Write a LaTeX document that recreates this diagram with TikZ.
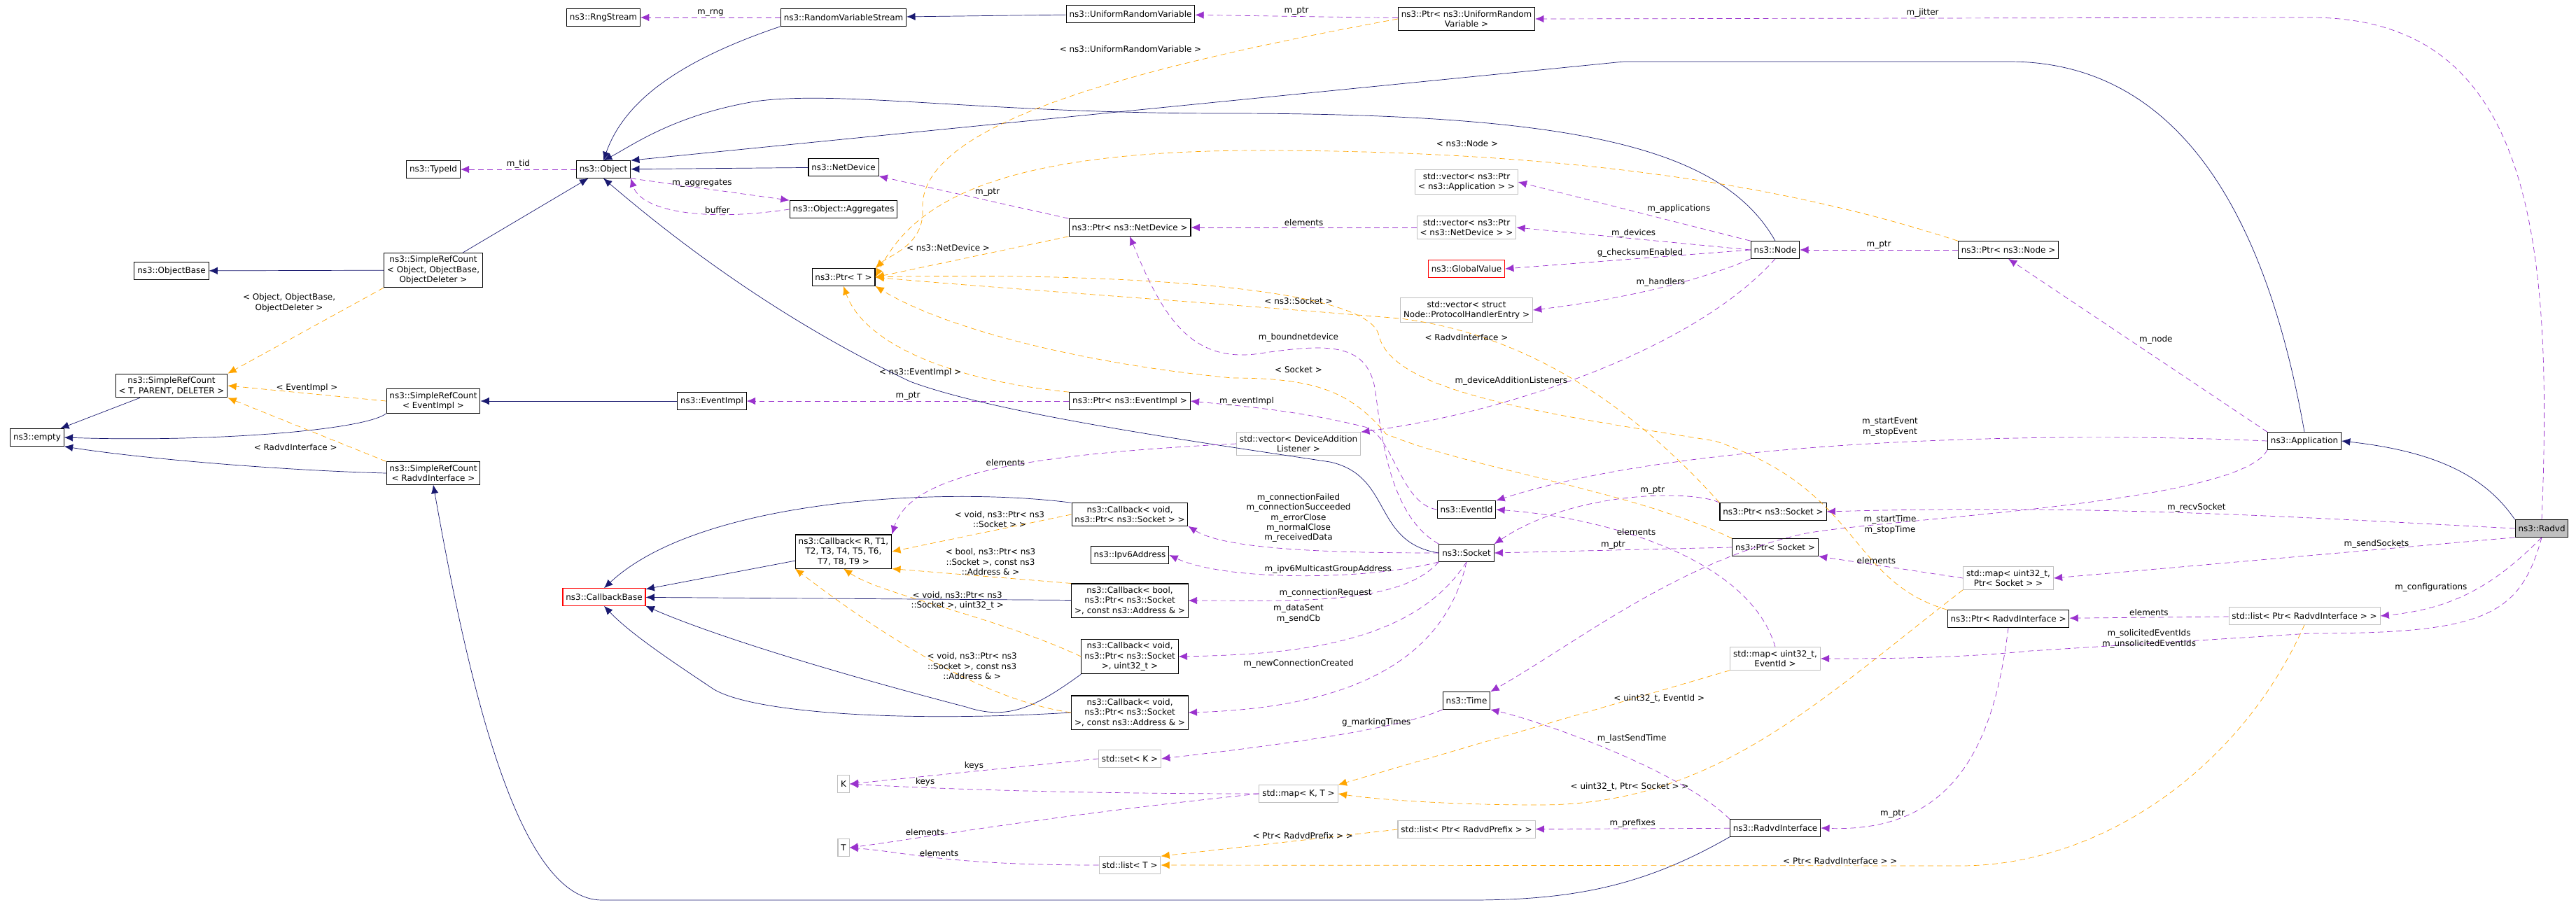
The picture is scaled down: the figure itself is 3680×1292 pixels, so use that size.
\documentclass[tikz,border=0pt]{standalone}
\usepackage{fontspec}
\setmainfont{DejaVu Sans}
\usetikzlibrary{arrows.meta,positioning}

\definecolor{inhcol}{HTML}{191970}
\definecolor{usecol}{HTML}{9A32CD}
\definecolor{tplcol}{HTML}{FFA500}
\definecolor{extcol}{HTML}{BFBFBF}

\begin{document}
\begin{tikzpicture}[x=0.02cm,y=-0.02cm,
  font=\fontsize{6.8}{8.2}\selectfont,
  cls/.style={draw=black,semithick,fill=white,align=center,inner sep=2.5pt,minimum height=14pt},
  ext/.style={cls,draw=extcol},
  bad/.style={cls,draw=red},
  inh/.style={draw=inhcol,thin,-{Latex[length=7pt,width=6pt]}},
  use/.style={draw=usecol,thin,dash pattern=on 4.5pt off 3pt,-{Latex[length=7pt,width=6pt]}},
  tpl/.style={draw=tplcol,thin,dash pattern=on 4.5pt off 3pt,-{Latex[length=7pt,width=6pt]}},
  lbl/.style={align=center,inner sep=1pt}]
\useasboundingbox (0,0) rectangle (3680,1292);

% classes
\node[cls] (rngstream) at (862,25) {ns3::RngStream};
\node[cls] (rvstream) at (1205,25) {ns3::RandomVariableStream};
\node[cls] (urv) at (1615,20) {ns3::UniformRandomVariable};
\node[cls] (pUrv) at (2095,27) {ns3::Ptr\textless{} ns3::UniformRandom\\Variable \textgreater};
\node[cls] (typeid) at (619,242) {ns3::TypeId};
\node[cls] (object) at (862,242) {ns3::Object};
\node[cls] (netdevice) at (1205,239) {ns3::NetDevice};
\node[cls] (aggregates) at (1205,299) {ns3::Object::Aggregates};
\node[cls] (objectbase) at (245,387) {ns3::ObjectBase};
\node[cls] (srcObj) at (619,386) {ns3::SimpleRefCount\\\textless{} Object, ObjectBase,\\ObjectDeleter \textgreater};
\node[cls] (srcT) at (245,551) {ns3::SimpleRefCount\\\textless{} T, PARENT, DELETER \textgreater};
\node[cls] (srcEvent) at (619,573) {ns3::SimpleRefCount\\\textless{} EventImpl \textgreater};
\node[cls] (srcRadvd) at (619,676) {ns3::SimpleRefCount\\\textless{} RadvdInterface \textgreater};
\node[cls] (empty) at (53,625) {ns3::empty};
\node[cls] (eventimpl) at (1017,573) {ns3::EventImpl};
\node[cls] (pT) at (1205,396) {ns3::Ptr\textless{} T \textgreater};
\node[cls] (pNetDevice) at (1614,325) {ns3::Ptr\textless{} ns3::NetDevice \textgreater};
\node[ext] (vecApp) at (2095,260) {std::vector\textless{} ns3::Ptr\\\textless{} ns3::Application \textgreater{} \textgreater};
\node[ext] (vecDev) at (2095,325) {std::vector\textless{} ns3::Ptr\\\textless{} ns3::NetDevice \textgreater{} \textgreater};
\node[bad] (globalvalue) at (2095,384) {ns3::GlobalValue};
\node[ext] (vecHandler) at (2095,443) {std::vector\textless{} struct\\Node::ProtocolHandlerEntry \textgreater};
\node[cls] (node) at (2536,357) {ns3::Node};
\node[cls] (pNode) at (2869,357) {ns3::Ptr\textless{} ns3::Node \textgreater};
\node[cls] (pEventImpl) at (1614,573) {ns3::Ptr\textless{} ns3::EventImpl \textgreater};
\node[ext] (dal) at (1855,634) {std::vector\textless{} DeviceAddition\\Listener \textgreater};
\node[bad] (callbackbase) at (863,853) {ns3::CallbackBase};
\node[cls] (cbR) at (1205,788) {ns3::Callback\textless{} R, T1,\\T2, T3, T4, T5, T6,\\T7, T8, T9 \textgreater};
\node[cls] (cbSock) at (1614,735) {ns3::Callback\textless{} void,\\ns3::Ptr\textless{} ns3::Socket \textgreater{} \textgreater};
\node[cls] (ipv6) at (1614,793) {ns3::Ipv6Address};
\node[cls] (cbBool) at (1614,858) {ns3::Callback\textless{} bool,\\ns3::Ptr\textless{} ns3::Socket\\\textgreater, const ns3::Address \& \textgreater};
\node[cls] (cbUint) at (1614,938) {ns3::Callback\textless{} void,\\ns3::Ptr\textless{} ns3::Socket\\\textgreater, uint32\_t \textgreater};
\node[cls] (cbAddr) at (1614,1018) {ns3::Callback\textless{} void,\\ns3::Ptr\textless{} ns3::Socket\\\textgreater, const ns3::Address \& \textgreater};
\node[cls] (eventid) at (2095,728) {ns3::EventId};
\node[cls] (socket) at (2095,790) {ns3::Socket};
\node[cls] (time) at (2095,1001) {ns3::Time};
\node[ext] (keyK) at (1205,1120) {K};
\node[ext] (keyT) at (1205,1211) {T};
\node[ext] (setK) at (1614,1084) {std::set\textless{} K \textgreater};
\node[ext] (mapKT) at (1855,1134) {std::map\textless{} K, T \textgreater};
\node[ext] (listPrefix) at (2095,1185) {std::list\textless{} Ptr\textless{} RadvdPrefix \textgreater{} \textgreater};
\node[ext] (listT) at (1614,1236) {std::list\textless{} T \textgreater};
\node[cls] (application) at (3292,630) {ns3::Application};
\node[cls] (pNsSocket) at (2533,731) {ns3::Ptr\textless{} ns3::Socket \textgreater};
\node[cls] (pSocket) at (2536,782) {ns3::Ptr\textless{} Socket \textgreater};
\node[ext] (mapSock) at (2869,826) {std::map\textless{} uint32\_t,\\Ptr\textless{} Socket \textgreater{} \textgreater};
\node[cls] (pRI) at (2869,884) {ns3::Ptr\textless{} RadvdInterface \textgreater};
\node[ext] (listRI) at (3292,880) {std::list\textless{} Ptr\textless{} RadvdInterface \textgreater{} \textgreater};
\node[ext] (mapEvent) at (2536,941) {std::map\textless{} uint32\_t,\\EventId \textgreater};
\node[cls] (radvdif) at (2536,1183) {ns3::RadvdInterface};
\node[cls,fill=extcol] (radvd) at (3631,755) {ns3::Radvd};

% inheritance
\draw[inh] (rvstream.south west) .. controls (960,90) and (890,150) .. (object.north);
\draw[inh] (urv) -- (rvstream);
\draw[inh] (node.north) .. controls (2460,210) and (2250,162) .. (1750,162) .. controls (1400,162) and (1200,128) .. (1078,145) .. controls (960,165) and (900,210) .. (object.north);
\draw[inh] (application.north) .. controls (3250,380) and (3150,88) .. (2870,88) -- (2320,88) -- (object.north east);
\draw[inh] (netdevice) -- (object);
\draw[inh] (socket.west) .. controls (1960,775) and (1990,680) .. (1900,660) .. controls (1700,630) and (1420,590) .. (1300,545) .. controls (1100,450) and (950,330) .. (object.south);
\draw[inh] (srcObj) -- (object);
\draw[inh] (srcObj) -- (objectbase);
\draw[inh] (srcT) -- (empty);
\draw[inh] (srcEvent.south west) .. controls (520,615) and (300,632) .. (empty.east);
\draw[inh] (srcRadvd.west) .. controls (400,672) and (200,655) .. (empty.south east);
\draw[inh] (eventimpl) -- (srcEvent);
\draw[inh] (radvdif.south west) .. controls (2350,1265) and (2250,1286) .. (2100,1286) -- (860,1286) .. controls (740,1286) and (670,980) .. (srcRadvd.south);
\draw[inh] (cbR) -- (callbackbase);
\draw[inh] (cbSock.north west) .. controls (1350,695) and (1000,712) .. (callbackbase.north);
\draw[inh] (cbBool) -- (callbackbase);
\draw[inh] (cbUint.south west) .. controls (1480,1010) and (1440,1030) .. (1380,1010) .. controls (1150,950) and (1000,900) .. (callbackbase.south east);
\draw[inh] (cbAddr.west) .. controls (1300,1032) and (1080,1020) .. (1020,985) .. controls (960,945) and (900,905) .. (callbackbase.south);
\draw[inh] (radvd.north west) .. controls (3550,680) and (3480,645) .. (application.east);

% usage
\draw[use] (rvstream) -- node[lbl,above] {m\_rng} (rngstream);
\draw[use] (pUrv) -- node[lbl,above] {m\_ptr} (urv);
\draw[use] (radvd.north) .. controls (3650,300) and (3600,25) .. (3300,25) -- node[lbl,above] {m\_jitter} (pUrv.east);
\draw[use] (object) -- node[lbl,above] {m\_tid} (typeid);
\draw[use] (object.south east) -- node[lbl,above,pos=0.45] {m\_aggregates} (aggregates.north west);
\draw[use] (aggregates.west) .. controls (1000,318) and (915,300) .. node[lbl,above,pos=0.3] {buffer} (object.south east);
\draw[use] (pNetDevice.north west) -- node[lbl,above right] {m\_ptr} (netdevice.south east);
\draw[use] (vecDev) -- node[lbl,above] {elements} (pNetDevice);
\draw[use] (node.north west) -- node[lbl,above right,pos=0.45] {m\_applications} (vecApp.east);
\draw[use] (node.west) -- node[lbl,above] {m\_devices} (vecDev.east);
\draw[use] (node.west) -- node[lbl,above,pos=0.45] {g\_checksumEnabled} (globalvalue.east);
\draw[use] (node.south west) .. controls (2420,405) and (2300,430) .. node[lbl,above,pos=0.45] {m\_handlers} (vecHandler.east);
\draw[use] (node.south) .. controls (2420,500) and (2150,590) .. node[lbl,pos=0.55,left] {m\_deviceAdditionListeners} (dal.north east);
\draw[use] (pNode) -- node[lbl,above] {m\_ptr} (node);
\draw[use] (application.north west) -- node[lbl,above right] {m\_node} (pNode.south);
\draw[use] (socket.north west) .. controls (1990,740) and (1975,640) .. (1965,560) .. controls (1955,490) and (1900,490) .. (1800,505) .. controls (1700,520) and (1660,450) .. (pNetDevice.south);
\node[lbl] (lblBound) at (1855,482) {m\_boundnetdevice};
\draw[use] (pEventImpl) -- node[lbl,above] {m\_ptr} (eventimpl);
\draw[use] (eventid.west) .. controls (2000,720) and (1990,620) .. (1950,610) .. controls (1850,585) and (1750,578) .. node[lbl,above,pos=0.6] {m\_eventImpl} (pEventImpl.east);
\draw[use] (dal.west) .. controls (1450,650) and (1300,680) .. node[lbl,above,pos=0.45] {elements} (cbR.north east);
\draw[use] (socket.west) .. controls (1900,790) and (1750,785) .. (cbSock.south east);
\node[lbl] (lblConn) at (1855,740) {m\_connectionFailed\\m\_connectionSucceeded\\m\_errorClose\\m\_normalClose\\m\_receivedData};
\draw[use] (socket.south west) .. controls (1950,830) and (1750,830) .. node[lbl,above,pos=0.4] {m\_ipv6MulticastGroupAddress} (ipv6.east);
\draw[use] (socket.south west) .. controls (2000,865) and (1850,858) .. node[lbl,above,pos=0.55] {m\_connectionRequest} (cbBool.east);
\draw[use] (socket.south) .. controls (2020,920) and (1850,935) .. (cbUint.east);
\node[lbl] (lblSent) at (1855,877) {m\_dataSent\\m\_sendCb};
\draw[use] (socket.south) .. controls (2060,960) and (1900,1012) .. (cbAddr.east);
\node[lbl] (lblNew) at (1855,948) {m\_newConnectionCreated};
\draw[use] (application.west) .. controls (2900,615) and (2400,630) .. (eventid.north east);
\node[lbl] (lblStartEv) at (2700,610) {m\_startEvent\\m\_stopEvent};
\draw[use] (application.south west) .. controls (3200,720) and (2700,740) .. (2580,762) .. controls (2400,800) and (2250,920) .. (time.north east);
\node[lbl] (lblStartT) at (2700,750) {m\_startTime\\m\_stopTime};
\draw[use] (pNsSocket.north west) .. controls (2420,700) and (2250,700) .. node[lbl,above,pos=0.4] {m\_ptr} (socket.north east);
\draw[use] (pSocket.west) -- node[lbl,above] {m\_ptr} (socket.east);
\draw[use] (mapEvent.north) .. controls (2500,800) and (2300,740) .. node[lbl,above,pos=0.6] {elements} (eventid.east);
\draw[use] (mapSock.west) -- node[lbl,above,pos=0.6] {elements} (pSocket.south east);
\draw[use] (radvd.west) .. controls (3300,740) and (3000,720) .. node[lbl,above,pos=0.5] {m\_recvSocket} (pNsSocket.east);
\draw[use] (radvd.south west) -- node[lbl,above,pos=0.3] {m\_sendSockets} (mapSock.east);
\draw[use] (radvd.south) .. controls (3560,840) and (3500,870) .. node[lbl,above left,pos=0.5] {m\_configurations} (listRI.east);
\draw[use] (radvd.south) .. controls (3600,880) and (3550,905) .. (3300,905) -- (2900,930) .. controls (2800,940) and (2700,941) .. (mapEvent.east);
\node[lbl] (lblSolic) at (3070,913) {m\_solicitedEventIds\\m\_unsolicitedEventIds};
\draw[use] (listRI) -- node[lbl,above] {elements} (pRI);
\draw[use] (pRI.south) .. controls (2850,1050) and (2800,1190) .. node[lbl,above,pos=0.8] {m\_ptr} (radvdif.east);
\draw[use] (time.south west) .. controls (2000,1040) and (1850,1062) .. node[lbl,above,pos=0.35] {g\_markingTimes} (setK.east);
\draw[use] (radvdif.north west) .. controls (2400,1100) and (2200,1030) .. node[lbl,above right,pos=0.55] {m\_lastSendTime} (time.south east);
\draw[use] (radvdif) -- node[lbl,above] {m\_prefixes} (listPrefix);
\draw[use] (setK.west) -- node[lbl,above] {keys} (keyK.east);
\draw[use] (mapKT.west) .. controls (1500,1134) and (1300,1125) .. node[lbl,above,pos=0.7] {keys} (keyK.east);
\draw[use] (mapKT.west) .. controls (1500,1165) and (1300,1200) .. node[lbl,above,pos=0.7] {elements} (keyT.east);
\draw[use] (listT.west) .. controls (1350,1236) and (1300,1218) .. node[lbl,above,pos=0.5] {elements} (keyT.east);

% templates
\draw[tpl] (pUrv.west) .. controls (1600,100) and (1310,180) .. (1318,300) .. controls (1320,350) and (1270,365) .. (pT.north east);
\node[lbl] (lblUrv) at (1615,70) {\textless{} ns3::UniformRandomVariable \textgreater};
\draw[tpl] (pNode.north west) .. controls (2600,280) and (2300,215) .. (1800,215) .. controls (1400,215) and (1300,300) .. (pT.east);
\node[lbl] (lblNode) at (2096,205) {\textless{} ns3::Node \textgreater};
\draw[tpl] (pNetDevice.south west) -- node[lbl,above left,pos=0.4] {\textless{} ns3::NetDevice \textgreater} (pT.east);
\draw[tpl] (pNsSocket.north west) .. controls (2350,600) and (2200,480) .. (2000,455) .. controls (1700,430) and (1400,410) .. (pT.east);
\node[lbl] (lblNsSock) at (1855,430) {\textless{} ns3::Socket \textgreater};
\draw[tpl] (pRI.north west) .. controls (2640,830) and (2660,700) .. (2450,630) .. controls (2200,590) and (1990,560) .. (1970,480) .. controls (1955,400) and (1500,390) .. (pT.east);
\node[lbl] (lblRI) at (2095,482) {\textless{} RadvdInterface \textgreater};
\draw[tpl] (pSocket.north west) .. controls (2330,700) and (2100,670) .. (1980,620) .. controls (1930,560) and (1880,540) .. (1760,540) .. controls (1550,520) and (1350,470) .. (pT.south east);
\node[lbl] (lblSock) at (1855,528) {\textless{} Socket \textgreater};
\draw[tpl] (pEventImpl.north west) .. controls (1330,540) and (1230,480) .. node[lbl,left,pos=0.3] {\textless{} ns3::EventImpl \textgreater} (pT.south);
\draw[tpl] (srcObj.south west) -- node[lbl,above left,pos=0.3] {\textless{} Object, ObjectBase,\\ObjectDeleter \textgreater} (srcT.north east);
\draw[tpl] (srcEvent.west) -- node[lbl,above] {\textless{} EventImpl \textgreater} (srcT.east);
\draw[tpl] (srcRadvd.north west) -- node[lbl,below left,pos=0.3] {\textless{} RadvdInterface \textgreater} (srcT.south east);
\draw[tpl] (cbSock.west) -- node[lbl,above,pos=0.4] {\textless{} void, ns3::Ptr\textless{} ns3\\::Socket \textgreater{} \textgreater} (cbR.east);
\draw[tpl] (cbBool.north west) -- node[lbl,above,pos=0.45] {\textless{} bool, ns3::Ptr\textless{} ns3\\::Socket \textgreater, const ns3\\::Address \& \textgreater} (cbR.south east);
\draw[tpl] (cbUint.west) .. controls (1420,880) and (1260,850) .. node[lbl,above,pos=0.45] {\textless{} void, ns3::Ptr\textless{} ns3\\::Socket \textgreater, uint32\_t \textgreater} (cbR.south);
\draw[tpl] (cbAddr.west) .. controls (1400,1000) and (1250,900) .. node[lbl,above,pos=0.35] {\textless{} void, ns3::Ptr\textless{} ns3\\::Socket \textgreater, const ns3\\::Address \& \textgreater} (cbR.south west);
\draw[tpl] (mapEvent.south west) -- node[lbl,above right,pos=0.3] {\textless{} uint32\_t, EventId \textgreater} (mapKT.north east);
\draw[tpl] (mapSock.south west) .. controls (2600,1000) and (2450,1150) .. (2200,1150) .. controls (2050,1150) and (1950,1140) .. (mapKT.east);
\node[lbl] (lblMapSock) at (2328,1124) {\textless{} uint32\_t, Ptr\textless{} Socket \textgreater{} \textgreater};
\draw[tpl] (listPrefix.west) -- node[lbl,above,pos=0.4] {\textless{} Ptr\textless{} RadvdPrefix \textgreater{} \textgreater} (listT.north east);
\draw[tpl] (listRI.south) .. controls (3200,1100) and (3000,1237) .. (2800,1237) -- node[lbl,above,pos=0.15] {\textless{} Ptr\textless{} RadvdInterface \textgreater{} \textgreater} (listT.east);
\end{tikzpicture}
\end{document}
